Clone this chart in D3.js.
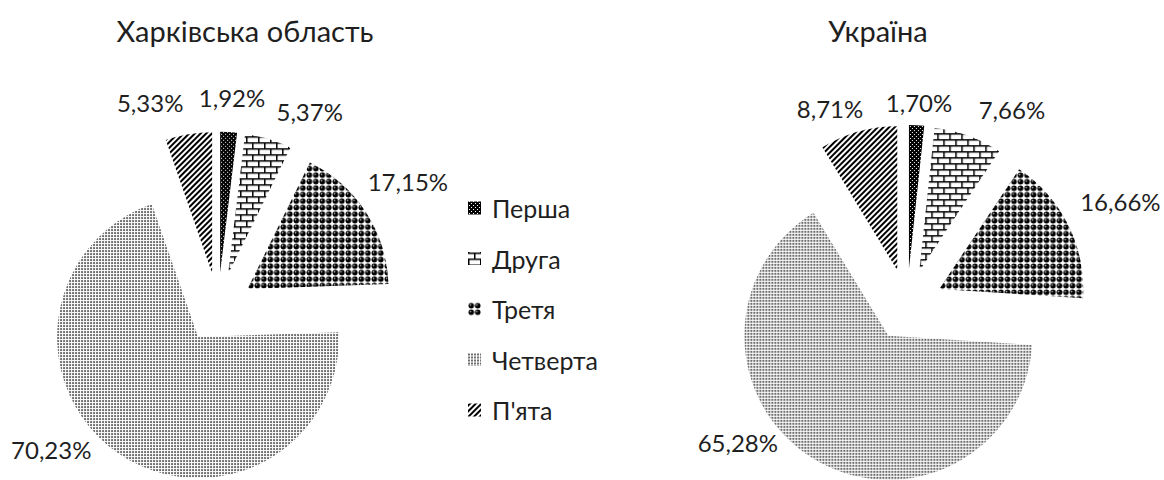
<!DOCTYPE html>
<html lang="uk">
<head>
<meta charset="utf-8">
<script src="https://cdn.jsdelivr.net/npm/d3@7"></script>
<style>
  html, body { margin: 0; padding: 0; background: #fff; }
  svg { display: block; font-family: Lato, "Open Sans", sans-serif; }
  text { fill: #1f1f1f; }
</style>
</head>
<body>
<svg id="chart" width="1164" height="480"></svg>
<script>
// Categories and shares (%)
const categories = ["Перша", "Друга", "Третя", "Четверта", "П'ята"];
const kharkivValues = [1.92, 5.37, 17.15, 70.23, 5.33];
const ukraineValues = [1.70, 7.66, 16.66, 65.28, 8.71];
const chartTitles = ["Харківська область", "Україна"];

// Pie geometry
const pies = [
  { title: chartTitles[0], values: kharkivValues, cx: 218, cy: 308, r: 141, titleX: 245,
    // label placement: [angle in degrees clockwise from 12 o'clock, distance from centre]
    labels: [[3.8, 211], [25, 217], [56.4, 228], [229.6, 219], [341.7, 216]] },
  { title: chartTitles[1], values: ukraineValues, cx: 907, cy: 305, r: 144, titleX: 878,
    labels: [[3.4, 203], [28.2, 222], [64.2, 237], [230.9, 218], [338.6, 211]] }
];
const explode = 0.25;

const svg = d3.select("#chart");
const defs = svg.append("defs");

// Fill patterns, one per category
function pat(id, w, h) {
  return defs.append("pattern").attr("id", id).attr("patternUnits", "userSpaceOnUse")
    .attr("width", w).attr("height", h);
}
// Перша: black with fine white dots
let p = pat("p0", 4, 4);
p.append("rect").attr("width", 4).attr("height", 4).attr("fill", "#000");
p.append("rect").attr("x", 1).attr("y", 1).attr("width", 1).attr("height", 1).attr("fill", "#fff");
p.append("rect").attr("x", 3).attr("y", 3).attr("width", 1).attr("height", 1).attr("fill", "#fff");
// Друга: horizontal bricks
p = pat("p1", 12, 12);
p.append("rect").attr("width", 12).attr("height", 12).attr("fill", "#fff");
p.append("path").attr("d", "M0,0.75H12M0,6.75H12M0.75,0V6.75M6.75,6.75V12")
  .attr("stroke", "#000").attr("stroke-width", 1.5).attr("fill", "none");
// Третя: shaded spheres
p = pat("p2", 6.5, 6.5);
p.append("rect").attr("width", 6.5).attr("height", 6.5).attr("fill", "#fff");
p.append("circle").attr("cx", 3.25).attr("cy", 3.25).attr("r", 2.8).attr("fill", "#000");
p.append("circle").attr("cx", 2.4).attr("cy", 2.4).attr("r", 0.8).attr("fill", "#bbb");
// Четверта: fine grey dot grid
p = pat("p3", 3, 3);
p.append("rect").attr("width", 3).attr("height", 3).attr("fill", "#fff");
p.append("rect").attr("width", 2).attr("height", 2).attr("fill", "#6e6e6e");
// П'ята: wide upward diagonal
p = pat("p4", 4, 4).attr("patternTransform", "rotate(45)");
p.append("rect").attr("width", 4).attr("height", 4).attr("fill", "#fff");
p.append("rect").attr("width", 2).attr("height", 4).attr("fill", "#000");

const fillScale = d3.scaleOrdinal().domain(categories).range(categories.map((c, i) => `url(#p${i})`));

const fmt = d3.formatLocale({ decimal: ",", thousands: " ", grouping: [3], currency: ["", ""] }).format(".2f");

pies.forEach(cfg => {
  const g = svg.append("g").attr("transform", `translate(${cfg.cx},${cfg.cy})`);
  const arcs = d3.pie().sort(null).value(d => d.v)(categories.map((c, i) => ({ c, v: cfg.values[i] })));
  const arc = d3.arc().innerRadius(0).outerRadius(cfg.r);
  const off = cfg.r * explode;

  g.selectAll("path.slice").data(arcs).join("path")
    .attr("class", "slice")
    .attr("transform", d => {
      const a = (d.startAngle + d.endAngle) / 2;
      return `translate(${off * Math.sin(a)},${-off * Math.cos(a)})`;
    })
    .attr("d", arc)
    .attr("fill", d => fillScale(d.data.c));

  g.selectAll("text.lbl").data(arcs).join("text")
    .attr("class", "lbl")
    .attr("x", (d, i) => cfg.labels[i][1] * Math.sin(cfg.labels[i][0] * Math.PI / 180))
    .attr("y", (d, i) => -cfg.labels[i][1] * Math.cos(cfg.labels[i][0] * Math.PI / 180))
    .attr("text-anchor", "middle").attr("dominant-baseline", "central")
    .attr("font-size", 24)
    .text(d => fmt(d.data.v) + "%");

  svg.append("text").attr("x", cfg.titleX).attr("y", 30)
    .attr("text-anchor", "middle").attr("dominant-baseline", "central")
    .attr("font-size", 29).text(cfg.title);
});

// Legend
const legend = svg.append("g").attr("transform", "translate(468,208)");
const li = legend.selectAll("g").data(categories).join("g")
  .attr("transform", (d, i) => `translate(0,${i * 50.5})`);
li.append("rect").attr("x", 0).attr("y", -6.5).attr("width", 13).attr("height", 13)
  .attr("fill", d => fillScale(d));
li.append("text").attr("x", 24).attr("y", 0).attr("dominant-baseline", "central")
  .attr("font-size", 25).text(d => d);
</script>
</body>
</html>
